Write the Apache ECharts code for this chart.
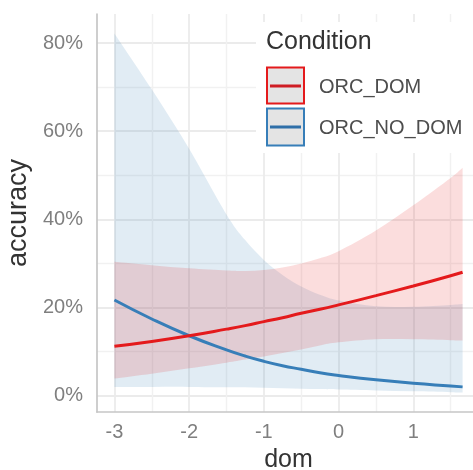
<!DOCTYPE html>
<html>
<head>
<meta charset="utf-8">
<script src="https://cdn.jsdelivr.net/npm/echarts@6/dist/echarts.min.js"></script>
<style>
  html, body { margin: 0; padding: 0; background: #ffffff; }
  #chart { width: 473px; height: 470px; }
</style>
</head>
<body>
<div id="chart"></div>
<script>
// dom values where the predictions are evaluated
const domValues = [-3, -2.5, -2, -1.5, -1.25, -1, -0.75, -0.5, -0.25, 0, 0.5, 1, 1.5, 1.66];

// ORC_DOM: predicted accuracy (%) and confidence band
const domFit   = [11.2, 12.3, 13.6, 15.1, 15.9, 16.8, 17.7, 18.7, 19.6, 20.6, 22.7, 24.9, 27.2, 28.0];
const domLower = [3.9, 5.0, 6.2, 7.5, 8.2, 8.9, 9.7, 10.5, 11.4, 12.1, 12.8, 12.8, 12.6, 12.5];
const domUpper = [30.4, 29.6, 28.9, 28.4, 28.3, 28.5, 29.1, 30.0, 31.2, 32.8, 37.5, 43.2, 49.4, 51.7];

// ORC_NO_DOM: predicted accuracy (%) and confidence band
const noDomFit   = [21.7, 17.4, 13.6, 10.4, 9.0, 7.8, 6.8, 6.0, 5.2, 4.6, 3.6, 2.8, 2.2, 2.0];
const noDomLower = [2.0, 2.0, 2.0, 1.9, 1.9, 1.8, 1.7, 1.6, 1.5, 1.4, 1.2, 1.0, 0.8, 0.7];
const noDomUpper = [82.2, 69.5, 56.0, 41.1, 35.3, 30.8, 27.4, 24.8, 22.9, 21.6, 20.3, 20.2, 20.6, 20.8];

// axis ticks
const xMajorTicks = [-3, -2, -1, 0, 1];
const xMinorTicks = [-2.5, -1.5, -0.5, 0.5, 1.5];
const yMajorTicks = [0, 20, 40, 60, 80];
const yMinorTicks = [10, 30, 50, 70];

const groupNames = ['ORC_DOM', 'ORC_NO_DOM'];
const RED = '#e41a1c';
const BLUE = '#377eb8';
const FONT = 'Liberation Sans, Arial, Helvetica, sans-serif';

const X_MIN = -3.233, X_MAX = 1.893;
const Y_MIN = -3.7, Y_MAX = 86.6;

// Smooth closed band path (Catmull-Rom segments converted to cubic Beziers)
function curveSegments(pts) {
  let d = '';
  for (let i = 0; i < pts.length - 1; i++) {
    const p0 = pts[Math.max(i - 1, 0)];
    const p1 = pts[i];
    const p2 = pts[i + 1];
    const p3 = pts[Math.min(i + 2, pts.length - 1)];
    const c1 = [p1[0] + (p2[0] - p0[0]) / 6, p1[1] + (p2[1] - p0[1]) / 6];
    const c2 = [p2[0] - (p3[0] - p1[0]) / 6, p2[1] - (p3[1] - p1[1]) / 6];
    d += ' C' + c1[0] + ' ' + c1[1] + ' ' + c2[0] + ' ' + c2[1] + ' ' + p2[0] + ' ' + p2[1];
  }
  return d;
}

function bandSeries(name, lower, upper, color) {
  return {
    name: name,
    type: 'custom',
    silent: true,
    animation: false,
    clip: true,
    encode: { x: 0, y: [1, 2] },
    data: domValues.map((x, i) => [x, lower[i], upper[i]]),
    renderItem: function (params, api) {
      if (params.dataIndex !== 0) return null;
      const top = domValues.map((x, i) => api.coord([x, upper[i]]));
      const bottom = domValues.map((x, i) => api.coord([x, lower[i]])).reverse();
      let d = 'M' + top[0][0] + ' ' + top[0][1] + curveSegments(top);
      d += ' L' + bottom[0][0] + ' ' + bottom[0][1] + curveSegments(bottom) + ' Z';
      return {
        type: 'path',
        shape: { pathData: d },
        style: { fill: color, opacity: 0.15, stroke: null }
      };
    }
  };
}

function fitSeries(name, values, color) {
  return {
    name: name,
    type: 'line',
    smooth: true,
    showSymbol: false,
    silent: true,
    animation: false,
    data: domValues.map((x, i) => [x, values[i]]),
    lineStyle: { color: color, width: 3 },
    itemStyle: { color: color }
  };
}

const chart = echarts.init(document.getElementById('chart'), null, { renderer: 'canvas' });

// legend drawn as graphic elements: white box, title, keys, labels
const legendGraphics = [
  { type: 'rect', shape: { x: 256, y: 22, width: 230, height: 131 }, style: { fill: '#ffffff' }, z: 10 },
  { type: 'text', x: 266, y: 42, style: { text: 'Condition', fontSize: 25, fontFamily: FONT, fill: '#333333', verticalAlign: 'middle', align: 'left' }, z: 11 },
  { type: 'rect', shape: { x: 267, y: 67.5, width: 37, height: 36 }, style: { fill: '#e4e4e4', stroke: RED, lineWidth: 2 }, z: 11 },
  { type: 'line', shape: { x1: 270, y1: 86, x2: 301, y2: 86 }, style: { stroke: '#cf1d24', lineWidth: 3 }, z: 12 },
  { type: 'text', x: 319, y: 87.5, style: { text: groupNames[0], fontSize: 20, fontFamily: FONT, fill: '#4d4d4d', verticalAlign: 'middle', align: 'left' }, z: 11 },
  { type: 'rect', shape: { x: 267, y: 108.5, width: 37, height: 37 }, style: { fill: '#e4e4e4', stroke: BLUE, lineWidth: 2 }, z: 11 },
  { type: 'line', shape: { x1: 270, y1: 127, x2: 301, y2: 127 }, style: { stroke: '#2f6fa8', lineWidth: 3 }, z: 12 },
  { type: 'text', x: 319, y: 128.5, style: { text: groupNames[1], fontSize: 20, fontFamily: FONT, fill: '#4d4d4d', verticalAlign: 'middle', align: 'left' }, z: 11 }
];

const option = {
  animation: false,
  backgroundColor: '#ffffff',
  grid: { left: 97, top: 14, right: -7, bottom: 58, containLabel: false, outerBoundsMode: 'none' },
  xAxis: [
    {
      type: 'value',
      min: X_MIN,
      max: X_MAX,
      position: 'bottom',
      name: 'dom',
      nameLocation: 'middle',
      nameGap: 36,
      nameTextStyle: { fontSize: 25, color: '#333333', fontFamily: FONT },
      axisLine: { show: true, onZero: false, lineStyle: { color: '#c6c6c6', width: 1.7 } },
      axisTick: { show: false, customValues: xMajorTicks },
      axisLabel: { customValues: xMajorTicks, margin: 10, fontSize: 20, color: '#7f7f7f', fontFamily: FONT },
      splitLine: { show: true, lineStyle: { color: '#ebebeb', width: 1.8 } }
    },
    {
      type: 'value',
      min: X_MIN,
      max: X_MAX,
      position: 'top',
      axisLine: { show: false },
      axisTick: { show: false, customValues: xMinorTicks },
      axisLabel: { show: false },
      splitLine: { show: true, lineStyle: { color: '#f1f1f1', width: 1.4 } }
    }
  ],
  yAxis: [
    {
      type: 'value',
      min: Y_MIN,
      max: Y_MAX,
      position: 'left',
      name: 'accuracy',
      nameLocation: 'middle',
      nameRotate: 90,
      nameGap: 56,
      nameTextStyle: { fontSize: 27, color: '#333333', fontFamily: FONT },
      axisLine: { show: true, onZero: false, lineStyle: { color: '#c6c6c6', width: 1.7 } },
      axisTick: { show: false, customValues: yMajorTicks },
      axisLabel: { customValues: yMajorTicks, margin: 14, fontSize: 20, color: '#7f7f7f', fontFamily: FONT, formatter: v => v + '%' },
      splitLine: { show: true, lineStyle: { color: '#ebebeb', width: 1.8 } }
    },
    {
      type: 'value',
      min: Y_MIN,
      max: Y_MAX,
      position: 'right',
      axisLine: { show: false },
      axisTick: { show: false, customValues: yMinorTicks },
      axisLabel: { show: false },
      splitLine: { show: true, lineStyle: { color: '#f1f1f1', width: 1.4 } }
    }
  ],
  series: [
    bandSeries(groupNames[1] + ' band', noDomLower, noDomUpper, BLUE),
    fitSeries(groupNames[1], noDomFit, BLUE),
    bandSeries(groupNames[0] + ' band', domLower, domUpper, RED),
    fitSeries(groupNames[0], domFit, RED)
  ],
  graphic: legendGraphics
};

chart.setOption(option);
</script>
</body>
</html>
